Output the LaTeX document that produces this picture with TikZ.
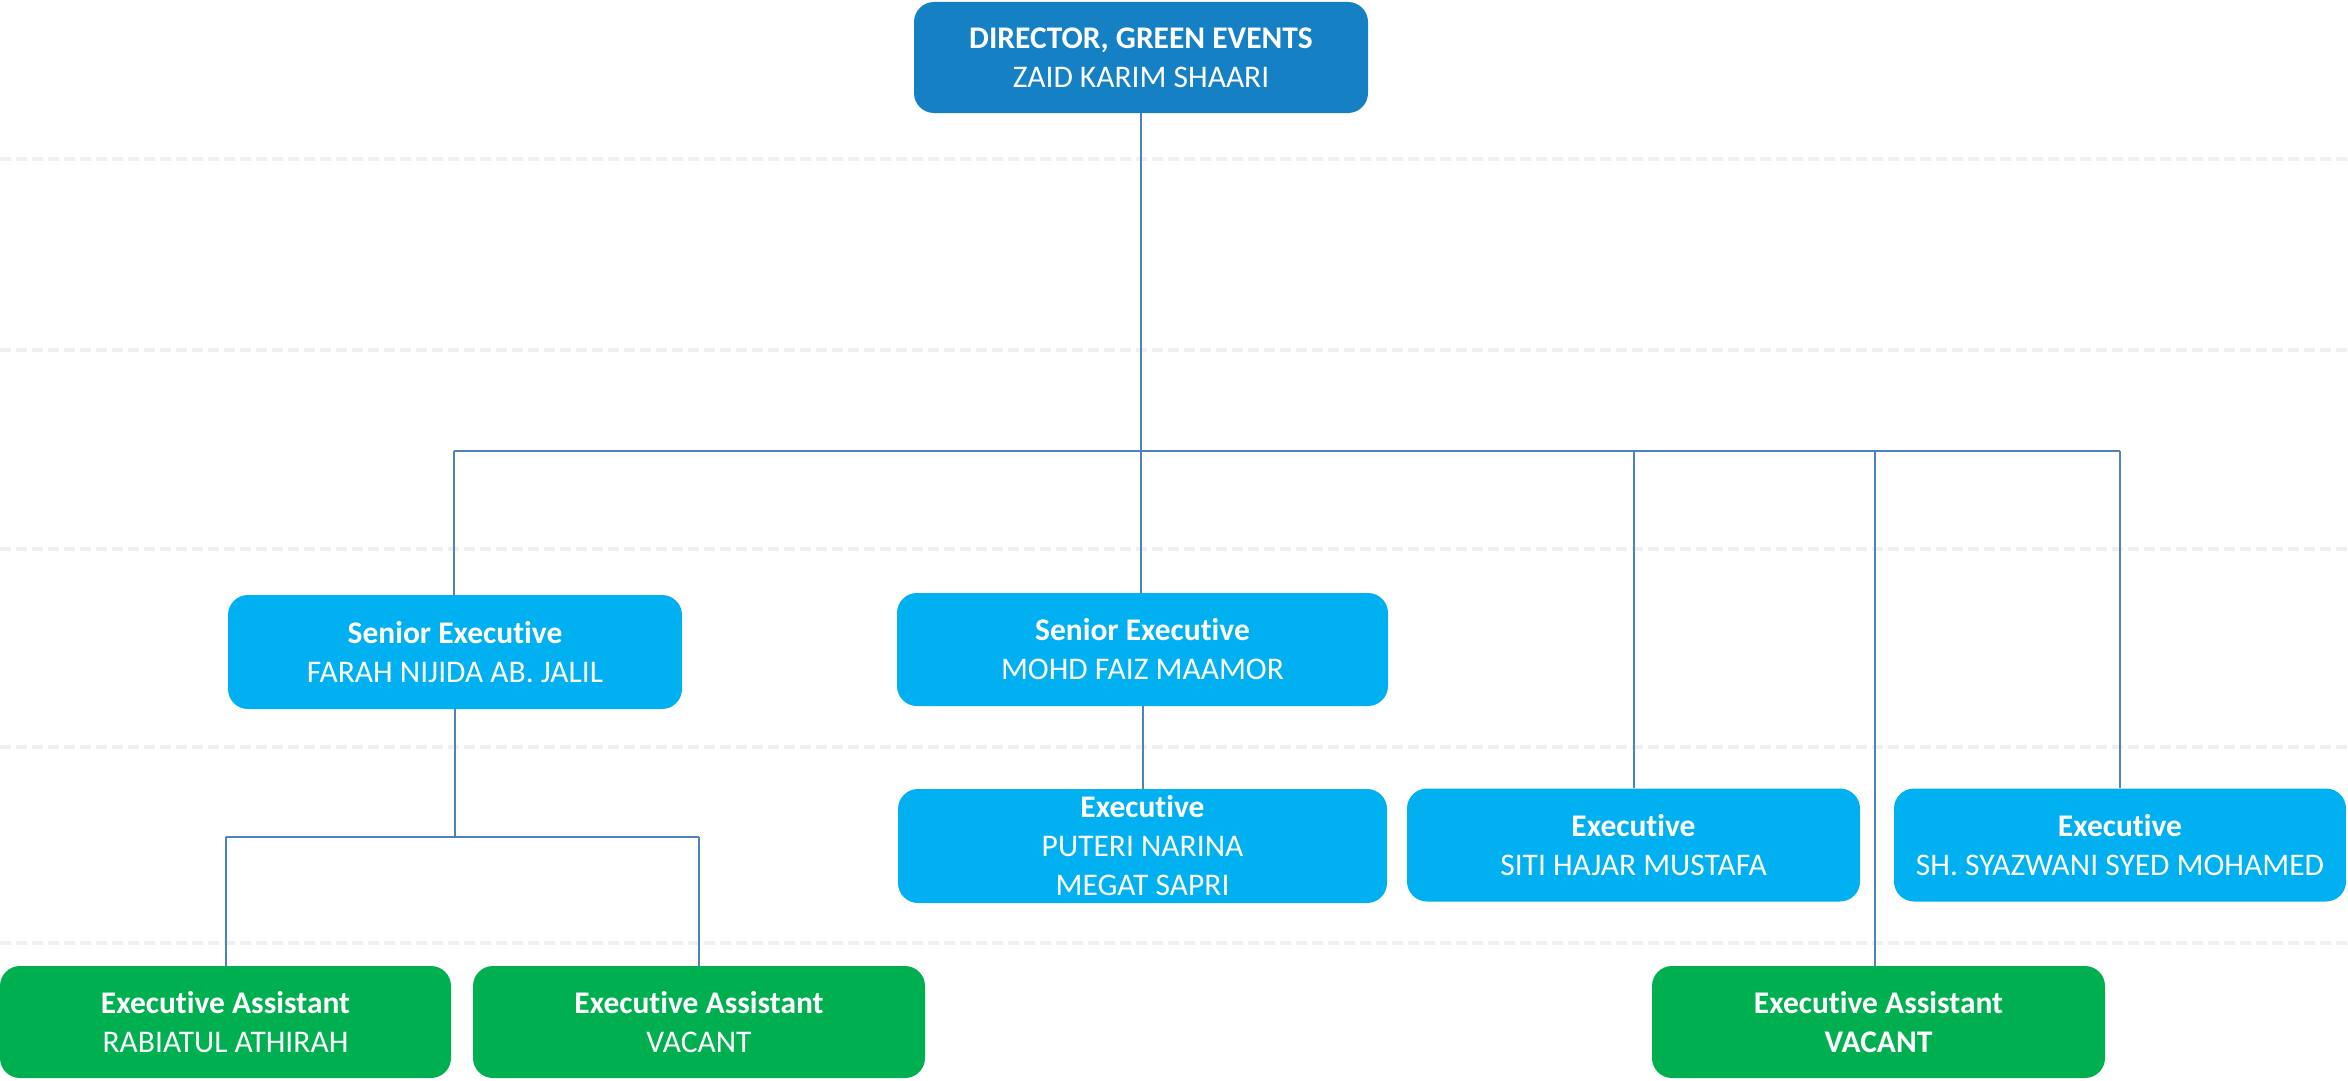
\documentclass[tikz,border=0pt]{standalone}
\usepackage{fontspec}
\setmainfont{Carlito}[Ligatures=NoCommon]
\definecolor{dirblue}{HTML}{1580C4}
\definecolor{exblue}{HTML}{00B0F0}
\definecolor{eagreen}{HTML}{00B050}
\definecolor{conn}{HTML}{4F81BD}
\definecolor{gridgray}{HTML}{F0F0F0}
\tikzset{
  box/.style={rectangle, rounded corners=20pt, inner sep=0pt, align=center,
    text=white, font=\fontsize{31.5}{39}\selectfont},
  dirbox/.style={box, fill=dirblue},
  exbox/.style={box, fill=exblue},
  eabox/.style={box, fill=eagreen},
  link/.style={draw=conn, line width=2pt},
  gridline/.style={draw=gridgray, line width=4pt, dash pattern=on 11pt off 5pt}
}
\begin{document}
\begin{tikzpicture}[x=1pt,y=-1pt]
\useasboundingbox (0,0) rectangle (2348,1081);
% background dashed lines
\foreach \yy in {159,350,549,747,943} {
  \draw[gridline] (0,\yy) -- (2348,\yy);
}
% nodes
\node[dirbox, minimum width=454pt, minimum height=111pt] (dir) at (1141,57.5)
  {\textbf{DIRECTOR, GREEN EVENTS}\\ZAID KARIM SHAARI};
\node[exbox, minimum width=454pt, minimum height=114pt] (se1) at (455,652)
  {\textbf{Senior Executive}\\FARAH NIJIDA AB. JALIL};
\node[exbox, minimum width=491pt, minimum height=113pt] (se2) at (1142.5,649.5)
  {\textbf{Senior Executive}\\MOHD FAIZ MAAMOR};
\node[exbox, minimum width=489pt, minimum height=114pt] (ex1) at (1142.5,846)
  {\textbf{Executive}\\PUTERI NARINA\\MEGAT SAPRI};
\node[exbox, minimum width=453pt, minimum height=113pt] (ex2) at (1633.5,845)
  {\textbf{Executive}\\SITI HAJAR MUSTAFA};
\node[exbox, minimum width=452pt, minimum height=113pt] (ex3) at (2120,845)
  {\textbf{Executive}\\SH. SYAZWANI SYED MOHAMED};
\node[eabox, minimum width=451pt, minimum height=112pt] (ea1) at (225.5,1022)
  {\textbf{Executive Assistant}\\RABIATUL ATHIRAH};
\node[eabox, minimum width=452pt, minimum height=112pt] (ea2) at (699,1022)
  {\textbf{Executive Assistant}\\VACANT};
\node[eabox, minimum width=453pt, minimum height=112pt] (ea3) at (1878.5,1022)
  {\textbf{Executive Assistant}\\\textbf{VACANT}};
% bus coordinates
\coordinate (busL) at (454,451);
\coordinate (busR) at (2120,451);
\coordinate (subL) at (225.5,837);
\coordinate (subR) at (699,837);
% connectors
\draw[link] (dir.south) -- (dir.south |- busL);
\draw[link] (busL) -- (busR);
\draw[link] (se1.north -| busL) -- (busL);
\draw[link] (dir.south |- busL) -- (se2.north -| dir.south);
\draw[link] (ex2.north |- busL) -- (ex2.north);
\draw[link] (ex3.north |- busL) -- (ex3.north);
\draw[link] ([xshift=-4pt]ea3.north |- busL) -- ([xshift=-4pt]ea3.north);
\draw[link] (se2.south) -- (ex1.north);
\draw[link] (se1.south) -- (se1.south |- subL);
\draw[link] (subL) -- (subR);
\draw[link] (subL) -- (ea1.north);
\draw[link] (subR) -- (ea2.north);
\end{tikzpicture}
\end{document}
